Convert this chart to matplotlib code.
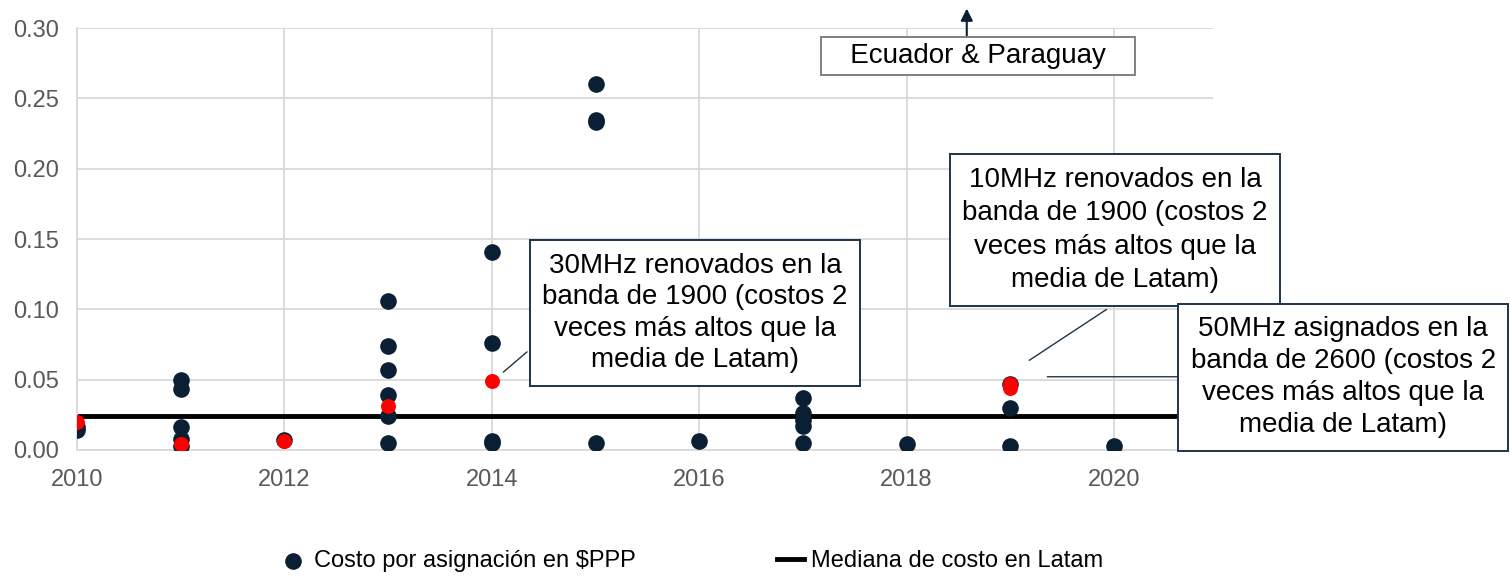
import numpy as np
import matplotlib.pyplot as plt

plt.rcParams['font.family'] = ['Liberation Sans', 'DejaVu Sans']

# costo por asignacion (dark points)
years = [2010, 2010,
         2011, 2011, 2011, 2011, 2011,
         2012,
         2013, 2013, 2013, 2013, 2013, 2013,
         2014, 2014, 2014, 2014,
         2015, 2015, 2015, 2015,
         2016,
         2017, 2017, 2017, 2017, 2017,
         2018,
         2019, 2019, 2019,
         2020]
costs = [0.014, 0.016,
         0.050, 0.043, 0.016, 0.008, 0.003,
         0.007,
         0.106, 0.074, 0.057, 0.039, 0.024, 0.005,
         0.141, 0.076, 0.006, 0.005,
         0.260, 0.235, 0.233, 0.005,
         0.006,
         0.037, 0.026, 0.021, 0.017, 0.005,
         0.004,
         0.047, 0.030, 0.003,
         0.003]

# highlighted (red) points
red_years = [2010, 2011, 2012, 2013, 2014, 2019, 2019]
red_costs = [0.020, 0.004, 0.006, 0.031, 0.049, 0.047, 0.044]

median_latam = 0.024

navy = '#0a1f33'
grey_txt = '#595959'

fig = plt.figure(figsize=(15.1, 5.76), dpi=100)
ax = fig.add_axes([0.051, 0.219, 0.752, 0.732])

ax.axhline(median_latam, color='black', lw=3.5, zorder=2, label='Mediana de costo en Latam')
ax.scatter(years, costs, s=120, color=navy, zorder=3, label='Costo por asignación en $PPP')
ax.scatter(red_years, red_costs, s=95, color='#ff0000', zorder=4)

ax.set_xlim(2010, 2020.95)
ax.set_ylim(0, 0.30)
ax.set_xticks([2010, 2012, 2014, 2016, 2018, 2020])
ax.set_yticks(np.arange(0, 0.31, 0.05))
ax.yaxis.set_major_formatter(plt.FormatStrFormatter('%.2f'))
ax.tick_params(length=0, labelsize=17, labelcolor=grey_txt)
ax.tick_params(axis='x', pad=14)
ax.tick_params(axis='y', pad=13)
ax.grid(True, color='#d9d9d9', lw=1.3)
ax.set_axisbelow(True)
for s in ['top', 'right']:
    ax.spines[s].set_visible(False)
for s in ['left', 'bottom']:
    ax.spines[s].set_color('#d9d9d9')
    ax.spines[s].set_linewidth(1.3)

box = dict(boxstyle='square,pad=0.45', fc='white', ec='#1d3446', lw=1.4)
txt = 'veces más altos que la\nmedia de Latam)'

# leader lines
ax.annotate('', xy=(2014.09, 0.054), xytext=(2014.36, 0.071),
            arrowprops=dict(arrowstyle='-', color='#1d3446', lw=1), annotation_clip=False)
ax.annotate('', xy=(2019.16, 0.0626), xytext=(2019.95, 0.101),
            arrowprops=dict(arrowstyle='-', color='#1d3446', lw=1), annotation_clip=False)
ax.annotate('', xy=(2019.33, 0.052), xytext=(2020.65, 0.052),
            arrowprops=dict(arrowstyle='-', color='#1d3446', lw=1), annotation_clip=False)
ax.annotate('', xy=(2018.58, 0.316), xytext=(2018.58, 0.29),
            arrowprops=dict(arrowstyle='-|>', color=navy, lw=1.5, mutation_scale=18),
            annotation_clip=False)

ax.text(2015.96, 0.0974, '30MHz renovados en la\nbanda de 1900 (costos 2\n' + txt,
        ha='center', va='center', fontsize=20, linespacing=1.28, bbox=box, zorder=6)
ax.text(2020.01, 0.1564, '10MHz renovados en la\nbanda de 1900 (costos 2\n' + txt,
        ha='center', va='center', fontsize=20, linespacing=1.38, bbox=box, zorder=6,
        clip_on=False)
ax.text(2022.21, 0.0515, '50MHz asignados en la\nbanda de 2600 (costos 2\n' + txt,
        ha='center', va='center', fontsize=20, linespacing=1.3, bbox=box, zorder=6,
        clip_on=False)
ax.text(2018.69, 0.2804, '   Ecuador & Paraguay   ', ha='center', va='center', fontsize=20,
        bbox=dict(boxstyle='square,pad=0.22', fc='white', ec='#808080', lw=1.4), zorder=6)

handles, labels = ax.get_legend_handles_labels()
fig.legend(handles[::-1], labels[::-1], loc='center', bbox_to_anchor=(0.458, 0.026), ncol=2,
           frameon=False, fontsize=17, handlelength=1.15, handletextpad=0.3,
           columnspacing=6.0)

fig.savefig('out.png', dpi=100)
